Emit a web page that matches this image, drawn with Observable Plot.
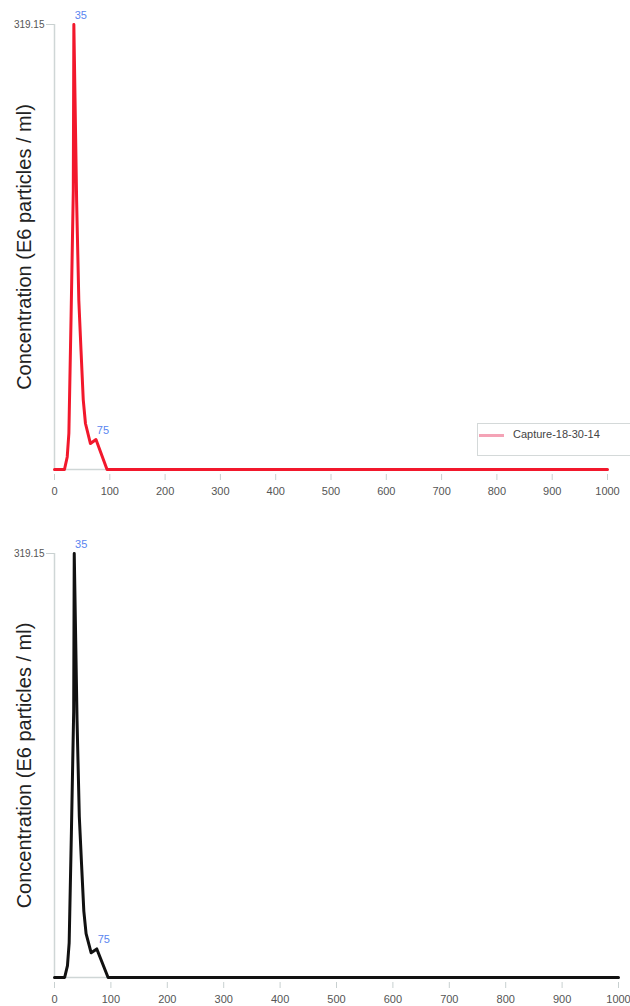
<!DOCTYPE html>
<html><head><meta charset="utf-8">
<script src="https://cdn.jsdelivr.net/npm/d3@7"></script>
<script src="https://cdn.jsdelivr.net/npm/@observablehq/plot@0.6"></script>
<style>
body{margin:0;background:#fff;font-family:"Liberation Sans",Arial,sans-serif;}
#wrap{position:relative;width:630px;height:1006px;overflow:hidden;}
#wrap svg{display:block;}
.legend{position:absolute;left:477px;top:423px;width:160px;height:33px;border:1px solid #d4d9d9;background:#fff;box-sizing:border-box;}
.legend .sw{position:absolute;left:1px;top:10px;width:25px;height:3px;background:#f4a3b6;}
.legend .lb{position:absolute;left:35px;top:4px;font-size:11px;color:#444;}
</style>
</head><body>
<div id="wrap"></div>
<script>
const sizes = [0, 18, 23, 26, 30, 34, 35, 40, 44, 48, 52, 56, 65, 75, 95, 1000];
const concentration = [0, 0, 9, 26, 110, 200, 319.15, 193, 121, 85, 50, 33, 18.6, 21.5, 0, 0];
const peakSizes = [35, 75];
const peakValues = [319.15, 21.5];
const peakTexts = ["35", "75"];
const xTicks = [0, 100, 200, 300, 400, 500, 600, 700, 800, 900, 1000];
const yTicks = [319.15];
const yLabel = "Concentration (E6 particles / ml)";
const seriesName = "Capture-18-30-14";

const data = sizes.map((s, i) => ({size: s, value: concentration[i]}));
const peaks = peakSizes.map((s, i) => ({size: s, value: peakValues[i], text: peakTexts[i]}));

function chart(color, height, mt, mb, mr) {
  return Plot.plot({
    width: 630, height, marginLeft: 54, marginRight: mr, marginTop: mt, marginBottom: mb,
    style: {fontFamily: '"Liberation Sans", Arial, sans-serif', fontSize: "11px", background: "transparent", overflow: "visible"},
    x: {domain: [0, 1000]},
    y: {domain: [0, 319.15]},
    marks: [
      Plot.ruleX([0], {stroke: "#cfd6d6", strokeWidth: 1.5}),
      Plot.ruleY([0], {stroke: "#cfd6d6", strokeWidth: 1.5}),
      Plot.axisX({ticks: xTicks, tickFormat: d => String(d), tickSize: 6, tickPadding: 7, dy: 5, stroke: "#c8d0d0", fill: "#555", label: null}),
      Plot.axisY({ticks: yTicks, tickFormat: d => String(d), tickSize: 8, tickPadding: 2, stroke: "#c8d0d0", fill: "#555", label: null, fontSize: 10}),
      Plot.line(data, {x: "size", y: "value", stroke: color, strokeWidth: 3}),
      Plot.text(peaks, {x: "size", y: "value", text: "text", dx: 7, dy: -9, fill: "#5a85f0", fontSize: 11}),
      Plot.text([yLabel], {frameAnchor: "left", textAnchor: "middle", dx: -30, rotate: -90, fontSize: 20, fill: "#222"})
    ]
  });
}

const wrap = document.getElementById("wrap");
wrap.appendChild(chart("#f2182c", 505, 24, 36, 23));
wrap.appendChild(chart("#111111", 501, 48, 29, 12));
const lg = document.createElement("div");
lg.className = "legend";
lg.innerHTML = '<div class="sw"></div><div class="lb"></div>';
lg.querySelector(".lb").textContent = seriesName;
wrap.appendChild(lg);
</script>
</body></html>
